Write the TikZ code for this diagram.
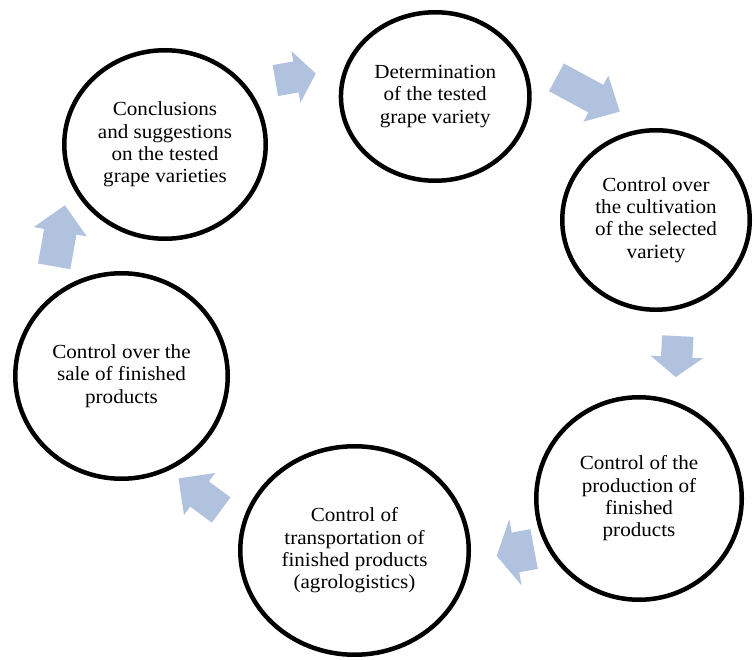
\documentclass[tikz,border=0pt]{standalone}
\usepackage{fontspec}
\setmainfont{Liberation Serif}[FakeStretch=1.055]
\usetikzlibrary{shapes.geometric,shapes.arrows}

\definecolor{arrowcol}{rgb}{0.69,0.76,0.87}

\begin{document}
\begin{tikzpicture}[
    x=1pt, y=1pt,
    stage/.style={draw, ellipse, line width=4.5pt, inner sep=0pt, align=center,
      font=\fontsize{20}{22.3}\selectfont},
    blockarrow/.style={single arrow, draw=none, fill=arrowcol, inner xsep=0pt,
      inner ysep=15.5pt, single arrow head extend=10.5pt, anchor=tip}
  ]
  \useasboundingbox (0,0) rectangle (754,659);

  \coordinate (s1p) at (435.2, 562.5);
  \coordinate (s2p) at (656.0, 439.0);
  \coordinate (s3p) at (639.0, 160.5);
  \coordinate (s4p) at (354.5, 108.5);
  \coordinate (s5p) at (121.5, 283.0);
  \coordinate (s6p) at (165.0, 514.5);

  % tips of the arrows
  \coordinate (a61p) at (316.0, 585.5);
  \coordinate (a12p) at (620.0, 547.3);
  \coordinate (a23p) at (675.7, 281.7);
  \coordinate (a34p) at (496.5, 103.0);
  \coordinate (a45p) at (178.3, 180.7);
  \coordinate (a56p) at (65.0, 454.0);

  % Stages
  \node[stage, minimum width=188.5pt, minimum height=168.5pt] (s1) at (s1p)
    {Determination\\of the tested\\grape variety};
  \node[stage, minimum width=187.5pt, minimum height=179.5pt] (s2) at (s2p)
    {Control over\\the cultivation\\of the selected\\variety};
  \node[stage, minimum width=205.5pt, minimum height=202.5pt] (s3) at (s3p)
    {Control of the\\production of\\finished\\products};
  \node[stage, minimum width=228.5pt, minimum height=208.5pt] (s4) at (s4p)
    {Control of\\transportation of\\finished products\\(agrologistics)};
  \node[stage, minimum width=212.5pt, minimum height=205.5pt] (s5) at (s5p)
    {Control over the\\sale of finished\\products};
  \node[stage, minimum width=201.5pt, minimum height=188.5pt] (s6) at (s6p)
    {Conclusions\\and suggestions\\on the tested\\grape varieties};

  % Arrows between the stages
  \node[blockarrow, rotate=9.8, minimum height=41pt, single arrow tip angle=105] (a61) at (a61p) {};
  \node[blockarrow, rotate=-28.4, minimum height=72pt, single arrow tip angle=88] (a12) at (a12p) {};
  \node[blockarrow, rotate=-92.9, minimum height=41pt, single arrow tip angle=105] (a23) at (a23p) {};
  \node[blockarrow, rotate=190.6, minimum height=38pt, inner ysep=20pt,
    single arrow head extend=13.5pt, single arrow tip angle=121] (a34) at (a34p) {};
  \node[blockarrow, rotate=143.5, minimum height=53pt, single arrow tip angle=90] (a45) at (a45p) {};
  \node[blockarrow, rotate=80, minimum height=62pt, inner ysep=16.2pt, single arrow tip angle=90] (a56) at (a56p) {};

\end{tikzpicture}
\end{document}
